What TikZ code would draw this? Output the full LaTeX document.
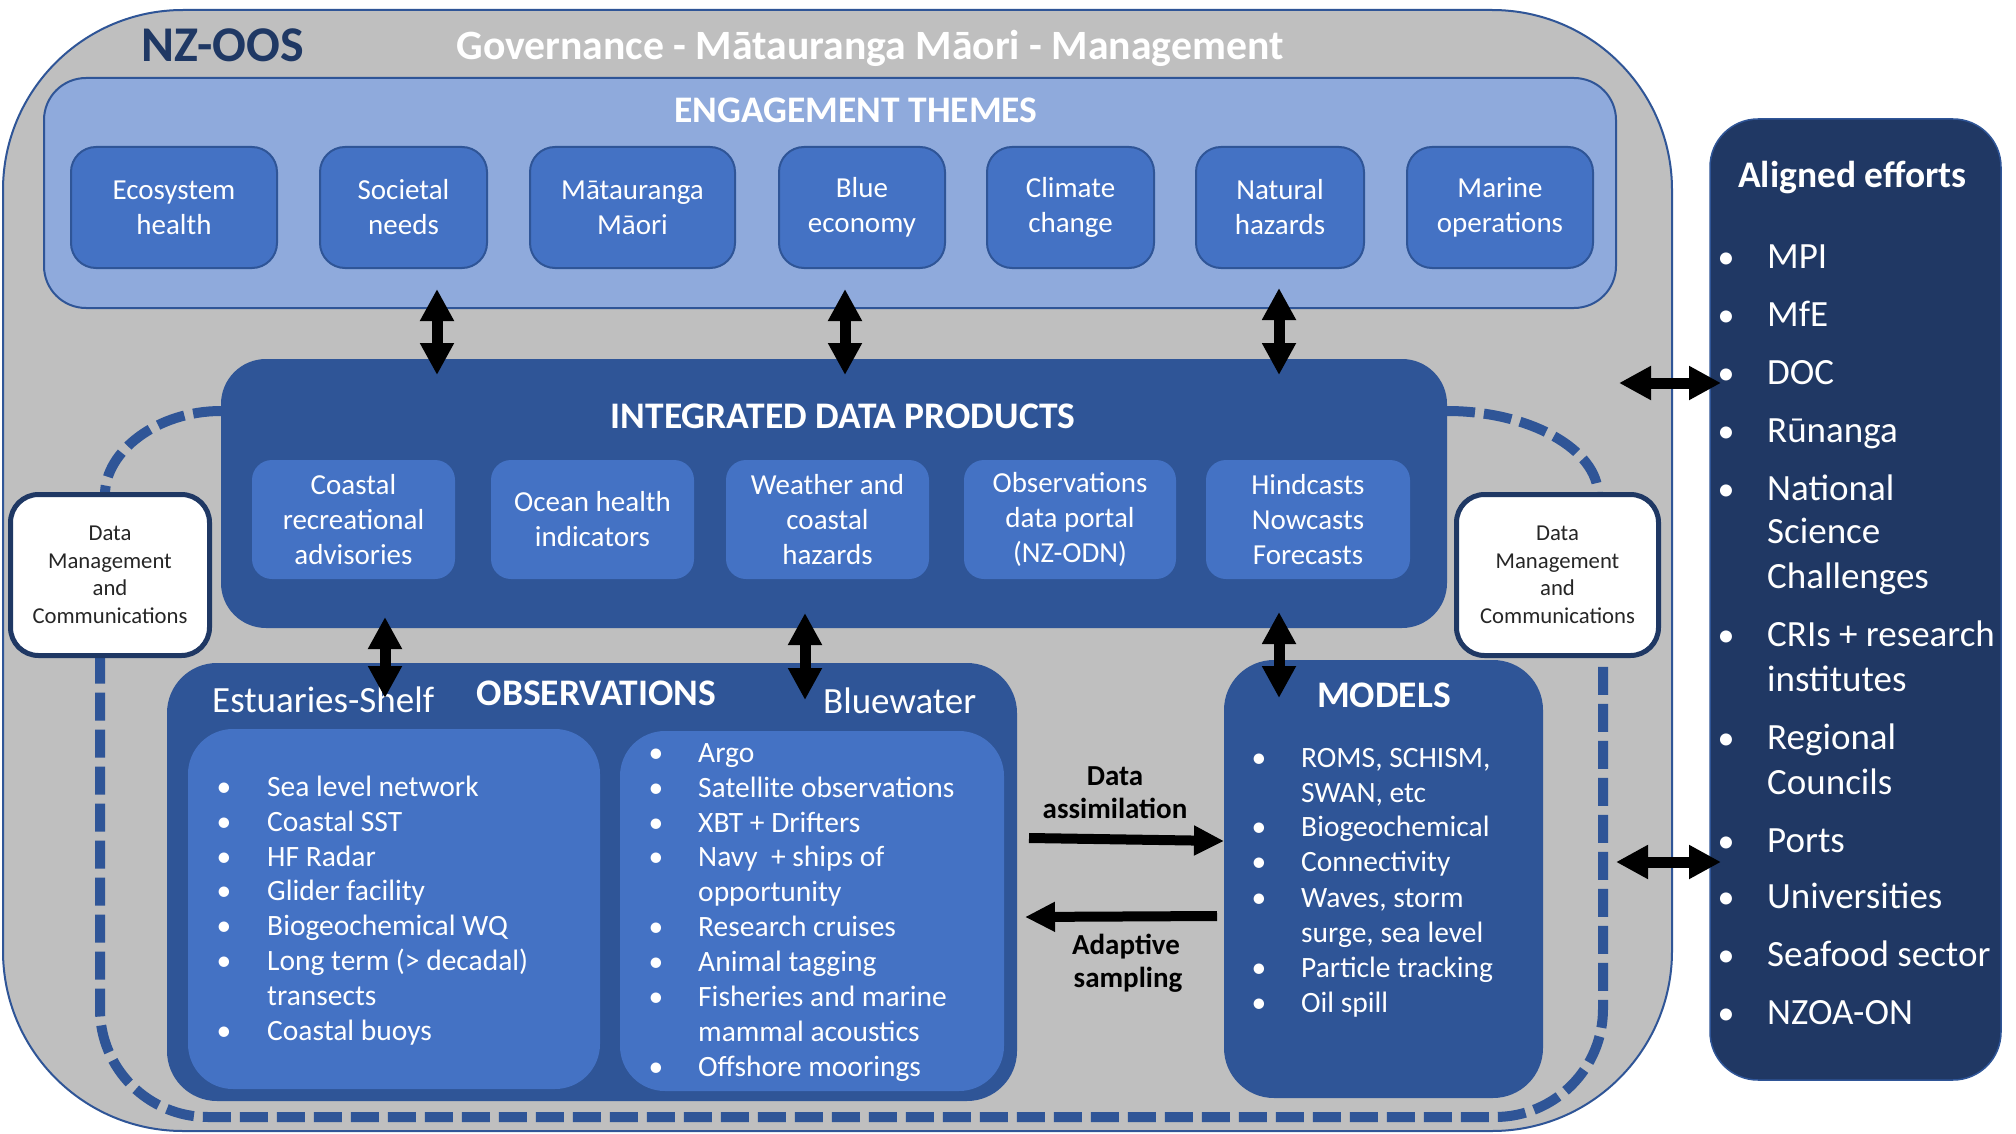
\documentclass[tikz,border=0pt]{standalone}
\usepackage{fontspec}
\setmainfont{Carlito}
\usetikzlibrary{arrows.meta}
\definecolor{cGray}{HTML}{BFBFBF}
\definecolor{cBorder}{HTML}{2F5597}
\definecolor{cLight}{HTML}{8FAADC}
\definecolor{cMid}{HTML}{4472C4}
\definecolor{cDark}{HTML}{2F5597}
\definecolor{cNavy}{HTML}{203864}
\definecolor{cTitle}{HTML}{1F3864}
\pgfdeclarelayer{back}\pgfdeclarelayer{dash}\pgfsetlayers{back,dash,main}
\newcommand\fs[2]{\fontsize{#1}{#2}\selectfont}
\begin{document}
\begin{tikzpicture}[x=1pt,y=-1pt,
  bx/.style 2 args={minimum width=#1pt, minimum height=#2pt, inner sep=0pt, outer sep=0pt},
  graybox/.style={draw=cBorder, line width=2pt, fill=cGray, rounded corners=180pt},
  engbox/.style={draw=cBorder, line width=2pt, fill=cLight, rounded corners=42pt},
  themebox/.style={draw=cBorder, line width=2pt, fill=cMid, rounded corners=25pt, text=white, align=center, font=\fs{29}{35}},
  darkbox/.style={fill=cDark, rounded corners=#1},
  prodbox/.style={fill=cMid, rounded corners=20pt, text=white, align=center, font=\fs{29}{35}},
  innerbox/.style={fill=cMid, rounded corners=45pt},
  dmbox/.style={draw=cTitle, line width=5pt, fill=white, rounded corners=28pt, text=black!85, align=center, font=\fs{22.7}{27.5}},
  alignbox/.style={draw=cBorder, line width=1.5pt, fill=cNavy, rounded corners=48pt},
  hdr/.style={anchor=base, inner sep=0pt, text=white, font=\bfseries\fs{37.5}{40}},
  sub/.style={anchor=base west, inner sep=0pt, text=white, font=\fs{37}{40}},
  li/.style={anchor=base west, inner sep=0pt, text=white, font=\fs{29.5}{35}},
  bu/.style={anchor=base, inner sep=0pt, text=white, font=\fs{29.5}{35}},
  lbl/.style={anchor=base, inner sep=0pt, text=black, font=\bfseries\fs{29}{34}},
  dashln/.style={draw=cDark, line width=10pt, dash pattern=on 28pt off 9pt},
  dbl/.style={line width=11pt, {Triangle[length=32pt,width=32pt]}-{Triangle[length=32pt,width=32pt]}},
  sgl/.style={line width=10pt, -{Triangle[length=30pt,width=28pt]}}
]
\useasboundingbox (0,0) rectangle (2016,1134);

\begin{pgfonlayer}{back}
\fill[white] (0,0) rectangle (2016,1134);
\node[graybox, bx={1669}{1121}] (oos) at (837.5,570.5) {};
\end{pgfonlayer}

% titles
\node[anchor=base west, inner sep=0pt, text=cTitle, font=\bfseries\fs{50}{54}] (nzoos) at (141,62) {NZ-OOS};
\node[anchor=base, inner sep=0pt, text=white, font=\bfseries\fs{41.7}{46}] (gov) at (870,60) {Governance - Mātauranga Māori - Management};

% engagement themes
\node[engbox, bx={1572}{230}] (eng) at (830,193) {};
\node[hdr] (engt) at (856,123) {ENGAGEMENT THEMES};
\node[themebox, bx={206}{121}] (th1) at (174,207.5) {Ecosystem\\health};
\node[themebox, bx={167}{121}] (th2) at (403.5,207.5) {Societal\\needs};
\node[themebox, bx={205}{121}] (th3) at (632.5,207.5) {Mātauranga\\Māori};
\node[themebox, bx={166}{121}] (th4) at (862,207.5) {Blue\\economy};
\node[themebox, bx={167}{121}] (th5) at (1070.5,207.5) {Climate\\change};
\node[themebox, bx={168}{121}] (th6) at (1280,207.5) {Natural\\hazards};
\node[themebox, bx={186}{121}] (th7) at (1500,207.5) {Marine\\operations};

% integrated data products
\node[darkbox=45pt, bx={1226}{269}] (idp) at (834,493.5) {};
\node[hdr] (idpt) at (843,428) {INTEGRATED DATA PRODUCTS};
\node[prodbox, bx={203}{119}] (p1) at (353.5,519.5) {Coastal\\recreational\\advisories};
\node[prodbox, bx={203}{119}] (p2) at (592.5,519.5) {Ocean health\\indicators};
\node[prodbox, bx={203}{119}] (p3) at (827.5,519.5) {Weather and\\coastal\\hazards};
\node[prodbox, bx={212}{119}] (p4) at (1070,519.5) {Observations\\data portal\\(NZ-ODN)};
\node[prodbox, bx={204}{119}] (p5) at (1308,519.5) {Hindcasts\\Nowcasts\\Forecasts};

% data management boxes
\node[dmbox, bx={199}{161}] (dml) at (110,575) {Data\\Management\\and\\Communications};
\node[dmbox, bx={202}{161}] (dmr) at (1557.5,575) {Data\\Management\\and\\Communications};

% observations
\node[darkbox=50pt, bx={850}{438}] (obs) at (592,882) {};
\node[innerbox, bx={412}{360}] (obsl) at (394,909) {};
\node[innerbox, bx={384}{360}] (obsr) at (812,911) {};
\node[hdr] (obst) at (596.5,705) {OBSERVATIONS};
\node[sub] (est) at (212,712) {Estuaries-Shelf};
\node[sub] (blue) at (823,713) {Bluewater};
\foreach \rowy/\rowt/\rowb [count=\i] in {796/Sea level network/1, 831/Coastal SST/1, 866/HF Radar/1, 900/Glider facility/1, 935/Biogeochemical WQ/1, 970/Long term (> decadal)/1, 1005/transects/0, 1040/Coastal buoys/1}{
  \node[li] (ol\i) at (267,\rowy) {\rowt};
  \ifnum\rowb=1 \node[bu] (olb\i) at (224,\rowy) {\textbullet};\fi
}
\foreach \rowy/\rowt/\rowb [count=\i] in {762/Argo/1, 797/Satellite observations/1, 832/XBT + Drifters/1, 866/Navy\ \ + ships of/1, 901/opportunity/0, 936/Research cruises/1, 971/Animal tagging/1, 1006/Fisheries and marine/1, 1041/mammal acoustics/0, 1076/Offshore moorings/1}{
  \node[li] (or\i) at (698,\rowy) {\rowt};
  \ifnum\rowb=1 \node[bu] (orb\i) at (656,\rowy) {\textbullet};\fi
}

% models
\node[darkbox=50pt, bx={319}{438}] (mod) at (1383.5,879) {};
\node[hdr] (modt) at (1384,707) {MODELS};
\foreach \rowy/\rowt/\rowb [count=\i] in {767/{ROMS, SCHISM,}/1, 802/{SWAN, etc}/0, 836/Biogeochemical/1, 871/Connectivity/1, 907/{Waves, storm}/1, 942/{surge, sea level}/0, 977/Particle tracking/1, 1012/Oil spill/1}{
  \node[li] (ml\i) at (1301,\rowy) {\rowt};
  \ifnum\rowb=1 \node[bu] (mlb\i) at (1259,\rowy) {\textbullet};\fi
}

% aligned efforts
\node[alignbox, bx={291}{961}] (ali) at (1855.5,599.5) {};
\node[anchor=base west, inner sep=0pt, text=white, font=\bfseries\fs{37.5}{40}] (alit) at (1738,188) {Aligned efforts};
\foreach \rowy/\rowt/\rowb [count=\i] in {268/MPI/1, 326/MfE/1, 384/DOC/1, 442/Rūnanga/1, 500/National/1, 543/Science/0, 588/Challenges/0, 646/CRIs + research/1, 691/institutes/0, 749/Regional/1, 794/Councils/0, 852/Ports/1, 908/Universities/1, 966/Seafood sector/1, 1024/NZOA-ON/1}{
  \node[anchor=base west, inner sep=0pt, text=white, font=\fs{37}{40}] (al\i) at (1767,\rowy) {\rowt};
  \ifnum\rowb=1 \node[anchor=base, inner sep=0pt, text=white, font=\fs{34}{40}] (alb\i) at (1726,\rowy) {\textbullet};\fi
}

% dashed data-management loop
\coordinate (dL) at (105,411);
\coordinate (dR) at (1598,411);
\coordinate (bL) at (100,1117);
\coordinate (bR) at (1603,1117);
\begin{pgfonlayer}{dash}
\draw[dashln] (idp.west |- dL) .. controls +(-64,0) and +(0,-43) .. (dml.north -| dL);
\draw[dashln] (idp.east |- dR) .. controls +(84,0) and +(0,-44) .. (dmr.north -| dR);
\draw[dashln, rounded corners=108pt] (dml.south -| bL) -- (bL) -- (bR) -- (dmr.south -| bR);
\end{pgfonlayer}

% arrows
\coordinate (v1a) at (437,289); \coordinate (v1b) at (437,375);
\coordinate (v2a) at (845,289); \coordinate (v2b) at (845,375);
\coordinate (v3a) at (1279,288); \coordinate (v3b) at (1279,375);
\coordinate (v4a) at (385,617); \coordinate (v4b) at (385,698);
\coordinate (v5a) at (805,613); \coordinate (v5b) at (805,700);
\coordinate (v6a) at (1279,612); \coordinate (v6b) at (1279,698);
\coordinate (h1a) at (1619,383); \coordinate (h1b) at (1721,383);
\coordinate (h2a) at (1616,862); \coordinate (h2b) at (1721,862);
\coordinate (daa) at (1029,838); \coordinate (dab) at (1224,841);
\coordinate (asa) at (1217,916); \coordinate (asb) at (1025,917);
\draw[dbl] (v1a) -- (v1b);
\draw[dbl] (v2a) -- (v2b);
\draw[dbl] (v3a) -- (v3b);
\draw[dbl] (v4a) -- (v4b);
\draw[dbl] (v5a) -- (v5b);
\draw[dbl] (v6a) -- (v6b);
\draw[dbl] (h1a) -- (h1b);
\draw[dbl] (h2a) -- (h2b);
\draw[sgl] (daa) -- (dab);
\draw[sgl] (asa) -- (asb);

\node[lbl] (da1) at (1115,785) {Data};
\node[lbl] (da2) at (1115,818) {assimilation};
\node[lbl] (as1) at (1126,954) {Adaptive};
\node[lbl] (as2) at (1128,987) {sampling};
\end{tikzpicture}
\end{document}
